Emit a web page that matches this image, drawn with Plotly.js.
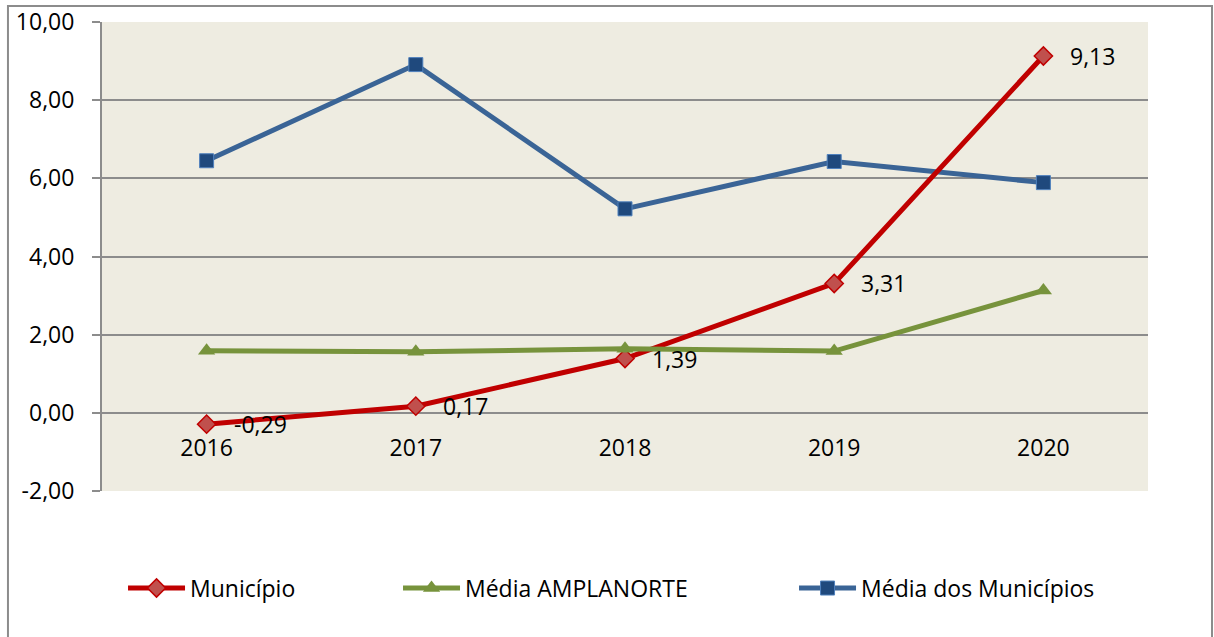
<!DOCTYPE html>
<html>
<head>
<meta charset="utf-8">
<script src="https://cdn.plot.ly/plotly-3.0.1.min.js"></script>
<style>html,body{margin:0;padding:0;background:#fff;}#chart{width:1214px;height:637px;}</style>
</head>
<body>
<div id="chart"></div>
<script>
const years = ["2016", "2017", "2018", "2019", "2020"];
const municipio = [-0.29, 0.17, 1.39, 3.31, 9.13];
const mediaAmplanorte = [1.59, 1.56, 1.64, 1.58, 3.13];
const mediaMunicipios = [6.45, 8.91, 5.22, 6.43, 5.89];
const yTicks = [-2, 0, 2, 4, 6, 8, 10];

const fmt = v => v.toFixed(2).replace(".", ",");
const FONT = "'Open Sans', sans-serif";
const FS = 23;

const traces = [
  {
    x: years, y: mediaMunicipios, name: "Média dos Municípios", type: "scatter", mode: "lines+markers",
    line: {color: "#3A6496", width: 5},
    marker: {symbol: "square", size: 14, color: "#1F497D", line: {color: "#4F81BD", width: 1}},
    legend: "legend3"
  },
  {
    x: years, y: municipio, name: "Município", type: "scatter", mode: "lines+markers",
    line: {color: "#C00000", width: 5},
    marker: {symbol: "diamond", size: 14, color: "#C0504D", line: {color: "#C00000", width: 1.5}},
    legend: "legend"
  },
  {
    x: years, y: mediaAmplanorte, name: "Média AMPLANORTE", type: "scatter", mode: "lines+markers",
    line: {color: "#77933C", width: 5},
    marker: {symbol: "triangle-up", size: 15, color: "#77933C"},
    legend: "legend2"
  }
];

// data labels for "Município", positioned on the category axis by index
const labels = municipio.map((v, i) => ({
  x: i, y: v, xref: "x", yref: "y",
  text: fmt(v), showarrow: false,
  xanchor: "left", yanchor: "middle", xshift: 25, yshift: 0,
  font: {family: FONT, size: FS, color: "#000"}
}));

const legCommon = {orientation: "h", yanchor: "middle", y: -0.207, xanchor: "left", itemwidth: 57,
  font: {family: FONT, size: FS, color: "#000"}, bgcolor: "rgba(0,0,0,0)"};

const layout = {
  width: 1214, height: 637,
  margin: {l: 102, r: 66, t: 22, b: 146},
  paper_bgcolor: "#fff",
  plot_bgcolor: "#EEECE1",
  font: {family: FONT, size: FS, color: "#000"},
  showlegend: true,
  legend: Object.assign({}, legCommon, {x: 0.0201}),
  legend2: Object.assign({}, legCommon, {x: 0.283}),
  legend3: Object.assign({}, legCommon, {x: 0.6616}),
  xaxis: {
    type: "category", range: [-0.5, 4.5], anchor: "free", position: 1/6,
    showgrid: false, showline: false, zeroline: false, ticks: "", ticklabelstandoff: 19,
    tickfont: {family: FONT, size: FS, color: "#000"}, fixedrange: true
  },
  yaxis: {
    range: [-2, 10], tickmode: "array", tickvals: yTicks, ticktext: yTicks.map(fmt),
    showgrid: true, gridcolor: "#8C8C8C", gridwidth: 2,
    showline: true, linecolor: "#8C8C8C", linewidth: 2,
    zeroline: false, ticks: "outside", ticklen: 8, tickwidth: 2, tickcolor: "#8C8C8C",
    ticklabelstandoff: 13,
    tickfont: {family: FONT, size: FS, color: "#000"}, fixedrange: true
  },
  annotations: labels,
  shapes: [{
    type: "rect", xref: "paper", yref: "paper",
    x0: -0.0899, x1: 1.0612, y0: -0.33, y1: 1.0341,
    line: {color: "#8C8C8C", width: 2}, fillcolor: "rgba(0,0,0,0)", layer: "below"
  }]
};

Plotly.newPlot("chart", traces, layout, {displayModeBar: false, staticPlot: true});
</script>
</body>
</html>
